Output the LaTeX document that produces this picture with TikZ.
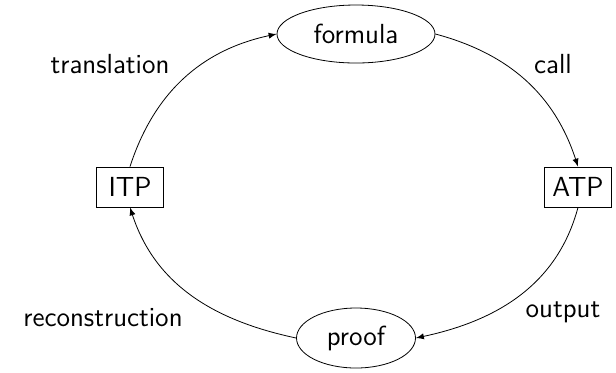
\documentclass[tikz,border=0pt]{standalone}
\usepackage{tikz}
\usetikzlibrary{shapes,arrows,positioning}

\begin{document}
\begin{tikzpicture}[
    x=0.5pt, y=-0.5pt,
    every node/.style={font=\sffamily\fontsize{13.8}{16}\selectfont},
    data/.style={ellipse, draw, inner sep=0pt},
    prover/.style={rectangle, draw, inner sep=0pt, minimum width=33.5pt, minimum height=20pt},
    lbl/.style={inner sep=0pt},
    arrow/.style={-latex, thin}
]
\useasboundingbox (0,0) rectangle (616,372);
\node[data, minimum width=79pt, minimum height=29pt] (formula) at (356,34) {formula};
\node[prover] (atp) at (578,187) {ATP};
\node[data, minimum width=59.5pt, minimum height=30pt] (proof) at (356,338) {proof};
\node[prover] (itp) at (130,187) {ITP};

\node[lbl] (translation) at (110,64) {translation};
\node[lbl] (call) at (553,64) {call};
\node[lbl] (output) at (563,312) {output};
\node[lbl] (reconstruction) at (103,318) {reconstruction};

\draw[arrow] (formula.east) to[out=-15, in=108] (atp.north);
\draw[arrow] (atp.south) to[out=-105, in=12] (proof.east);
\draw[arrow] (proof.west) to[out=168, in=-72] (itp.south);
\draw[arrow] (itp.north) to[out=72, in=192] (formula.west);
\end{tikzpicture}
\end{document}
